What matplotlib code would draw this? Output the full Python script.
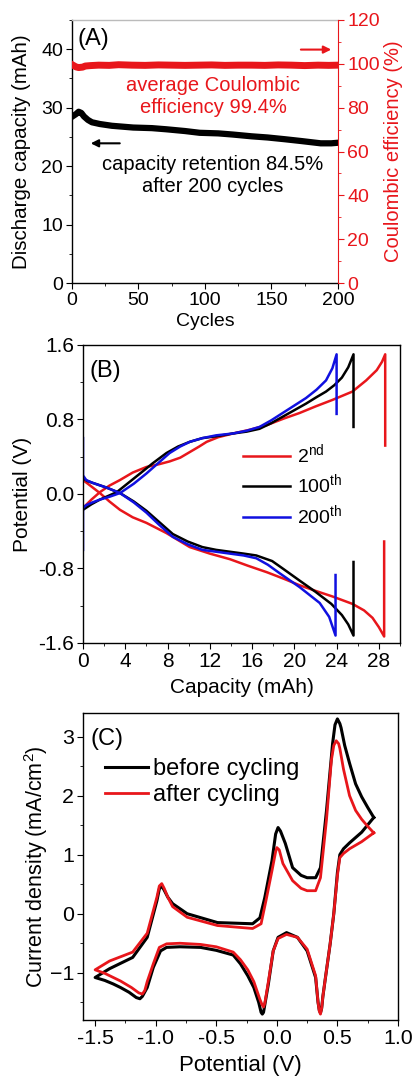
import matplotlib
matplotlib.use("Agg")
import matplotlib.pyplot as plt
from matplotlib.ticker import MultipleLocator

plt.rcParams['font.family'] = ['Liberation Sans', 'DejaVu Sans']
plt.rcParams['mathtext.fontset'] = 'custom'
plt.rcParams['mathtext.rm'] = 'Liberation Sans'
plt.rcParams['font.size'] = 14
plt.rcParams['xtick.direction'] = 'out'
plt.rcParams['ytick.direction'] = 'out'
plt.rcParams['xtick.major.size'] = 4
plt.rcParams['ytick.major.size'] = 4
plt.rcParams['xtick.minor.size'] = 2.5
plt.rcParams['ytick.minor.size'] = 2.5
plt.rcParams['xtick.major.pad'] = 2.5
plt.rcParams['ytick.major.pad'] = 2.5

# (A) cycling data
cycles = [1, 3, 5, 7, 9, 12, 15, 21, 30, 46, 60, 71, 85, 96, 110, 121, 135, 147, 160, 172, 187, 195, 200]
capacity = [28.6, 28.9, 29.3, 29.1, 28.5, 27.9, 27.5, 27.2, 26.9, 26.6, 26.5, 26.3, 26.0, 25.7, 25.6, 25.4, 25.1, 24.9, 24.6, 24.3, 23.9, 23.9, 24.0]
ce_cycles = [1, 3, 5, 8, 10, 14, 20, 28, 35, 45, 55, 65, 75, 85, 95, 105, 115, 125, 135, 145, 155, 165, 175, 185, 193, 200]
efficiency = [99.3, 98.6, 98.3, 98.5, 99.0, 99.2, 99.4, 99.3, 99.6, 99.4, 99.3, 99.5, 99.4, 99.3, 99.4, 99.5, 99.3, 99.4, 99.4, 99.3, 99.5, 99.4, 99.2, 99.4, 99.3, 99.4]

# (B) charge/discharge profiles
c2_x = [0, 0.8, 1.6, 2.5, 3.5, 4.7, 6.0, 7.2, 8.2, 9.2, 10.1, 11.0, 11.7, 12.8, 14.2, 15.8, 17.4, 19.0, 20.5, 22.0, 23.6, 25.5, 26.8, 27.8, 28.3, 28.6, 28.6]
c2_v = [-0.15, -0.06, 0.02, 0.09, 0.15, 0.23, 0.29, 0.32, 0.35, 0.39, 0.45, 0.51, 0.56, 0.61, 0.65, 0.69, 0.74, 0.81, 0.87, 0.94, 1.01, 1.10, 1.22, 1.33, 1.42, 1.50, 0.52]
d2_x = [0, 0.8, 1.6, 2.5, 3.5, 4.7, 6.0, 7.9, 10.1, 12.0, 13.9, 15.6, 17.4, 19.0, 20.5, 22.0, 23.6, 25.5, 26.6, 27.4, 28.0, 28.5, 28.5]
d2_v = [0.15, 0.08, 0.01, -0.08, -0.17, -0.25, -0.31, -0.42, -0.57, -0.64, -0.70, -0.77, -0.84, -0.91, -0.98, -1.04, -1.10, -1.18, -1.25, -1.33, -1.43, -1.53, -0.51]
c100_x = [0, 0.8, 1.6, 2.4, 3.2, 4.3, 5.4, 6.6, 7.9, 9.0, 10.1, 11.3, 12.6, 14.2, 15.5, 16.7, 17.8, 18.9, 20.0, 21.1, 22.1, 23.0, 23.8, 24.5, 25.1, 25.6, 25.6]
c100_v = [-0.17, -0.11, -0.06, -0.02, 0.02, 0.12, 0.22, 0.33, 0.44, 0.51, 0.56, 0.60, 0.62, 0.65, 0.67, 0.70, 0.76, 0.83, 0.90, 0.97, 1.04, 1.10, 1.17, 1.25, 1.36, 1.50, 0.72]
d100_x = [0, 0.4, 0.9, 2.2, 3.5, 4.8, 6.0, 7.2, 8.5, 9.9, 11.3, 12.6, 13.9, 15.2, 16.4, 17.9, 18.9, 20.5, 22.0, 23.5, 24.5, 25.1, 25.6, 25.6]
d100_v = [0.17, 0.14, 0.12, 0.07, 0.01, -0.08, -0.18, -0.30, -0.43, -0.51, -0.57, -0.60, -0.62, -0.64, -0.66, -0.72, -0.80, -0.93, -1.05, -1.18, -1.30, -1.40, -1.52, -0.73]
c200_x = [0, 0, 0.3, 0.9, 1.6, 2.5, 3.5, 4.8, 6.0, 7.1, 8.2, 9.2, 10.1, 11.3, 12.6, 14.2, 15.5, 16.7, 17.8, 18.9, 20.0, 21.1, 22.1, 23.0, 23.6, 24.0, 24.0]
c200_v = [-0.6, -0.15, -0.12, -0.09, -0.06, -0.03, 0.01, 0.11, 0.22, 0.33, 0.44, 0.51, 0.56, 0.60, 0.63, 0.65, 0.68, 0.72, 0.79, 0.87, 0.95, 1.03, 1.12, 1.22, 1.35, 1.50, 0.86]
d200_x = [0, 0, 0.3, 0.9, 2.2, 3.5, 4.8, 6.0, 7.2, 8.5, 9.9, 11.3, 12.6, 13.9, 15.2, 16.4, 17.5, 18.6, 20.5, 22.4, 23.3, 23.9, 23.9]
d200_v = [0.6, 0.2, 0.15, 0.12, 0.07, 0.01, -0.09, -0.20, -0.33, -0.46, -0.54, -0.60, -0.62, -0.64, -0.66, -0.69, -0.76, -0.85, -1.00, -1.17, -1.32, -1.52, -0.87]

# (C) cyclic voltammetry
cv_before_v = [0.80, 0.70, 0.60, 0.55, 0.52, 0.50, 0.47, 0.44, 0.40, 0.38, 0.37, 0.36, 0.35, 0.34, 0.32, 0.25, 0.17, 0.08, 0.01, -0.03, -0.07,
               -0.10, -0.11, -0.12, -0.13, -0.15, -0.19, -0.24, -0.30, -0.36, -0.50, -0.63, -0.80, -0.91, -0.96, -1.02, -1.07, -1.11,
               -1.13, -1.16, -1.22, -1.29, -1.35, -1.42, -1.50,
               -1.38, -1.19, -1.07, -0.99, -0.97, -0.95, -0.93, -0.90, -0.86, -0.74, -0.49, -0.20, -0.14, -0.10, -0.04, -0.01, 0.01,
               0.03, 0.07, 0.13, 0.20, 0.25, 0.32, 0.36, 0.41, 0.46, 0.48, 0.50, 0.52, 0.53, 0.56, 0.60, 0.65, 0.70, 0.75, 0.80]
cv_before_i = [1.63, 1.38, 1.20, 1.10, 1.00, 0.70, 0.0, -0.51, -1.10, -1.40, -1.60, -1.68, -1.63, -1.50, -1.08, -0.63, -0.40, -0.32, -0.40, -0.63, -1.19,
               -1.55, -1.67, -1.70, -1.67, -1.50, -1.25, -1.05, -0.85, -0.70, -0.62, -0.57, -0.56, -0.57, -0.63, -0.91, -1.25, -1.40,
               -1.44, -1.42, -1.33, -1.25, -1.19, -1.13, -1.08,
               -0.93, -0.74, -0.40, 0.22, 0.42, 0.47, 0.40, 0.28, 0.17, 0.0, -0.15, -0.17, -0.07, 0.27, 0.90, 1.35, 1.46,
               1.40, 1.19, 0.78, 0.65, 0.61, 0.61, 0.78, 1.75, 2.88, 3.20, 3.30, 3.22, 3.15, 2.85, 2.55, 2.20, 1.98, 1.80, 1.63]
cv_after_v = [0.80, 0.70, 0.60, 0.55, 0.52, 0.50, 0.47, 0.44, 0.40, 0.38, 0.37, 0.36, 0.35, 0.34, 0.32, 0.25, 0.17, 0.08, 0.01, -0.03, -0.07,
              -0.09, -0.10, -0.11, -0.12, -0.14, -0.19, -0.24, -0.30, -0.36, -0.50, -0.63, -0.80, -0.91, -0.97, -1.02, -1.07, -1.09,
              -1.11, -1.14, -1.20, -1.29, -1.35, -1.42, -1.50,
              -1.38, -1.19, -1.07, -0.99, -0.97, -0.95, -0.93, -0.90, -0.86, -0.74, -0.49, -0.20, -0.13, -0.09, -0.04, -0.01, 0.0,
              0.02, 0.05, 0.13, 0.20, 0.25, 0.32, 0.36, 0.41, 0.45, 0.47, 0.49, 0.51, 0.52, 0.55, 0.60, 0.65, 0.70, 0.75, 0.80]
cv_after_i = [1.37, 1.22, 1.10, 1.02, 0.95, 0.65, 0.0, -0.51, -1.10, -1.40, -1.60, -1.70, -1.65, -1.50, -1.05, -0.60, -0.40, -0.35, -0.42, -0.63, -1.15,
              -1.40, -1.52, -1.58, -1.55, -1.45, -1.15, -0.95, -0.78, -0.65, -0.56, -0.52, -0.50, -0.51, -0.57, -0.85, -1.15, -1.30,
              -1.36, -1.34, -1.25, -1.14, -1.08, -1.01, -0.95,
              -0.80, -0.65, -0.33, 0.28, 0.47, 0.51, 0.43, 0.28, 0.12, -0.06, -0.20, -0.25, -0.17, 0.22, 0.73, 1.05, 1.12,
              1.08, 0.85, 0.56, 0.43, 0.39, 0.39, 0.61, 1.60, 2.60, 2.85, 2.93, 2.88, 2.80, 2.45, 2.00, 1.75, 1.60, 1.48, 1.37]

W, H = 414, 1076
fig = plt.figure(figsize=(W / 100, H / 100), dpi=100)

def px_axes(left, top, right, bottom):
    return fig.add_axes([left / W, 1 - bottom / H, (right - left) / W, (bottom - top) / H])

def place_labels(a, ylab_x, xlab_y):
    a.yaxis.set_label_coords(ylab_x, 0.5)
    a.yaxis.label.set_va('center')
    a.xaxis.set_label_coords(0.5, xlab_y)
    a.xaxis.label.set_va('center')

red = '#e8161b'
blue = '#1010e0'

# ---- panel A
ax = px_axes(72, 20, 338, 283)
ax.plot(cycles, capacity, color='black', lw=4.5)
ax.set_xlim(0, 200)
ax.set_ylim(0, 45)
ax.xaxis.set_major_locator(MultipleLocator(50))
ax.xaxis.set_minor_locator(MultipleLocator(25))
ax.yaxis.set_major_locator(MultipleLocator(10))
ax.yaxis.set_minor_locator(MultipleLocator(5))
ax.tick_params(labelsize=14)
ax.set_xlabel('Cycles', fontsize=14)
ax.set_ylabel('Discharge capacity (mAh)', fontsize=14.8)
place_labels(ax, -0.188, -0.148)
ax.spines['top'].set_color('#bbbbbb')
ax.spines['right'].set_visible(False)
ax.text(0.02, 0.97, '(A)', transform=ax.transAxes, va='top', ha='left', fontsize=17)
ax.text(0.53, 0.71, 'average Coulombic\nefficiency 99.4%', color=red, transform=ax.transAxes,
        ha='center', va='center', fontsize=14.5)
ax.text(0.53, 0.41, 'capacity retention 84.5%\nafter 200 cycles', color='black', transform=ax.transAxes,
        ha='center', va='center', fontsize=14.5)
ax.annotate('', xy=(12, 23.9), xytext=(38, 23.9),
            arrowprops=dict(arrowstyle='-|>', color='black', lw=1.5, mutation_scale=11))

ax2 = ax.twinx()
ax2.plot(ce_cycles, efficiency, color=red, lw=5)
ax2.set_ylim(0, 120)
ax2.yaxis.set_major_locator(MultipleLocator(20))
ax2.yaxis.set_minor_locator(MultipleLocator(10))
ax2.tick_params(labelsize=14)
ax2.set_ylabel('Coulombic efficiency (%)', color=red, fontsize=14.5)
ax2.yaxis.set_label_coords(1.207, 0.5)
ax2.yaxis.label.set_va('center')
ax2.tick_params(axis='y', which='both', colors=red)
ax2.spines['right'].set_color(red)
ax2.spines['top'].set_visible(False)
ax2.spines['left'].set_visible(False)
ax2.spines['bottom'].set_visible(False)
ax2.annotate('', xy=(197, 106.5), xytext=(170, 106.5),
             arrowprops=dict(arrowstyle='-|>', color=red, lw=1.5, mutation_scale=11))

# ---- panel B
bx = px_axes(83, 345, 400, 643)
bx.plot(c2_x, c2_v, color=red, lw=1.8, label='2$^{\\mathregular{nd}}$')
bx.plot(d2_x, d2_v, color=red, lw=1.8)
bx.plot(c100_x, c100_v, color='black', lw=1.8, label='100$^{\\mathregular{th}}$')
bx.plot(d100_x, d100_v, color='black', lw=1.8)
bx.plot(c200_x, c200_v, color=blue, lw=1.8, label='200$^{\\mathregular{th}}$')
bx.plot(d200_x, d200_v, color=blue, lw=1.8)
bx.set_xlim(0, 30)
bx.set_ylim(-1.6, 1.6)
bx.xaxis.set_major_locator(MultipleLocator(4))
bx.xaxis.set_minor_locator(MultipleLocator(2))
bx.yaxis.set_major_locator(MultipleLocator(0.8))
bx.yaxis.set_minor_locator(MultipleLocator(0.4))
bx.yaxis.set_major_formatter(plt.FormatStrFormatter('%.1f'))
bx.tick_params(labelsize=15)
bx.set_xlabel('Capacity (mAh)', fontsize=15)
bx.set_ylabel('Potential (V)', fontsize=15)
place_labels(bx, -0.19, -0.148)
bx.text(0.02, 0.95, '(B)', transform=bx.transAxes, va='top', ha='left', fontsize=17)
bx.legend(loc='upper left', bbox_to_anchor=(0.48, 0.70), frameon=False, handlelength=2.4,
          handletextpad=0.4, labelspacing=0.3, fontsize=14, borderaxespad=0)

# ---- panel C
cx = px_axes(83, 713, 398, 1020)
cx.plot(cv_before_v, cv_before_i, color='black', lw=2.2, label='before cycling')
cx.plot(cv_after_v, cv_after_i, color=red, lw=2.0, label='after cycling')
cx.set_xlim(-1.6, 1.0)
cx.set_ylim(-1.8, 3.4)
cx.xaxis.set_major_locator(MultipleLocator(0.5))
cx.xaxis.set_minor_locator(MultipleLocator(0.25))
cx.yaxis.set_major_locator(MultipleLocator(1))
cx.yaxis.set_minor_locator(MultipleLocator(0.5))
cx.xaxis.set_major_formatter(plt.FormatStrFormatter('%.1f'))
cx.tick_params(labelsize=15.4)
cx.set_xlabel('Potential (V)', fontsize=16)
cx.set_ylabel('Current density (mA/cm$^{\\mathregular{2}}$)', fontsize=15.5)
place_labels(cx, -0.148, -0.147)
cx.text(0.025, 0.95, '(C)', transform=cx.transAxes, va='top', ha='left', fontsize=17)
cx.legend(loc='upper left', bbox_to_anchor=(0.04, 0.883), frameon=False, handlelength=1.8,
          handletextpad=0.25, labelspacing=0.15, fontsize=17, borderaxespad=0)

for a in (ax, bx, cx):
    for s in a.spines.values():
        s.set_linewidth(1.0)

fig.savefig('out.png', dpi=100)
